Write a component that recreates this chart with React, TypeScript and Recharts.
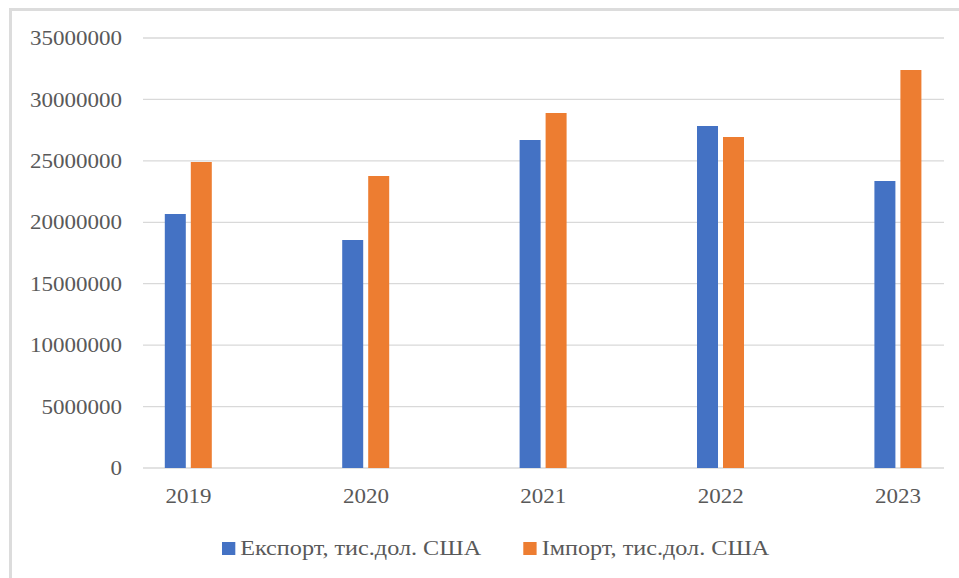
import React from 'react';
import { BarChart, Bar, XAxis, YAxis, CartesianGrid } from 'recharts';

const years = [2019, 2020, 2021, 2022, 2023];
const exportValues = [20670000, 18560000, 26700000, 27840000, 23360000];
const importValues = [24900000, 23770000, 28900000, 26940000, 32400000];
const yTicks = [0, 5000000, 10000000, 15000000, 20000000, 25000000, 30000000, 35000000];

const exportName = 'Експорт, тис.дол. США';
const importName = 'Імпорт, тис.дол. США';

const data = years.map((year, i) => ({
  year,
  exp: exportValues[i],
  imp: importValues[i],
}));

const FONT = '"Liberation Serif", "Times New Roman", serif';
const TEXT = '#595959';
const STRETCH = 1.15;

// the source picture is a bit stretched sideways, so the text is too
const StretchTick = (props: any) => {
  const { x, y, payload, textAnchor, shift } = props;
  return (
    <g transform={`translate(${x},${y}) scale(${STRETCH},1)`}>
      <text x={0} y={0} dy={shift} textAnchor={textAnchor} fill={TEXT} fontFamily={FONT} fontSize={20}>
        {payload.value}
      </text>
    </g>
  );
};

const legendItems = [
  { name: exportName, color: '#4472c4' },
  { name: importName, color: '#ed7d31' },
];

export default function App() {
  return (
    <div style={{ position: 'absolute', left: 0, top: 0, width: 959, height: 578, background: '#fff' }}>
      <div
        style={{
          position: 'absolute',
          left: 9,
          top: 8,
          right: 0,
          bottom: 0,
          borderTop: '3px solid #dcdcdc',
          borderLeft: '3px solid #dcdcdc',
        }}
      />
      <BarChart
        width={959}
        height={578}
        data={data}
        margin={{ top: 38, right: 15, left: 0, bottom: 0 }}
        barGap={5}
        style={{ position: 'absolute', left: 0, top: 0 }}
      >
        <CartesianGrid vertical={false} stroke="#d9d9d9" strokeWidth={1.3} />
        <XAxis
          dataKey="year"
          type="number"
          domain={[2018.7435, 2023.2587]}
          ticks={years}
          allowDataOverflow
          axisLine={false}
          tickLine={false}
          tickMargin={15}
          height={110}
          tick={<StretchTick shift="0.71em" />}
        />
        <YAxis
          domain={[0, 35000000]}
          ticks={yTicks}
          width={143}
          axisLine={false}
          tickLine={false}
          tickMargin={15}
          tick={<StretchTick shift="0.355em" />}
        />
        <Bar dataKey="exp" name={exportName} fill="#4472c4" barSize={21} isAnimationActive={false} />
        <Bar dataKey="imp" name={importName} fill="#ed7d31" barSize={21} isAnimationActive={false} />
      </BarChart>
      <div
        style={{
          position: 'absolute',
          left: 222,
          top: 537,
          display: 'flex',
          fontFamily: FONT,
          fontSize: 20,
          color: TEXT,
          transform: 'scaleX(1.21)',
          transformOrigin: 'left center',
          whiteSpace: 'nowrap',
        }}
      >
        {legendItems.map((it, i) => (
          <div key={it.name} style={{ display: 'flex', alignItems: 'center', marginRight: i === 0 ? 35 : 0 }}>
            <span style={{ width: 11, height: 13, background: it.color, display: 'inline-block', marginRight: 4 }} />
            <span>{it.name}</span>
          </div>
        ))}
      </div>
    </div>
  );
}
